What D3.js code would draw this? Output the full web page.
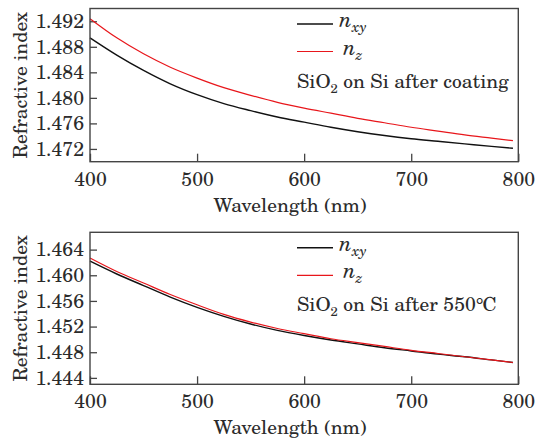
<!DOCTYPE html>
<html><head><meta charset="utf-8">
<script src="https://cdn.jsdelivr.net/npm/d3@7"></script>
</head><body style="margin:0;background:#fff"><svg id="c" width="535" height="441"></svg>
<script>
const wavelength = [400, 425, 450, 475, 500, 525, 550, 575, 600, 625, 650, 675, 700, 725, 750, 775, 795];
const coatingNxy = [1.4894, 1.4867, 1.4843, 1.4822, 1.4805, 1.4791, 1.4780, 1.4770, 1.4762, 1.4754, 1.4747, 1.4741, 1.4736, 1.4732, 1.4728, 1.4724, 1.4721];
const coatingNz  = [1.4924, 1.4894, 1.4869, 1.4848, 1.4831, 1.4816, 1.4804, 1.4793, 1.4784, 1.4776, 1.4768, 1.4761, 1.4754, 1.4748, 1.4742, 1.4737, 1.4733];
const annealNxy  = [1.4622, 1.4602, 1.4584, 1.4566, 1.4550, 1.4536, 1.4524, 1.4514, 1.4506, 1.4499, 1.4493, 1.4487, 1.4482, 1.4477, 1.4473, 1.4468, 1.4464];
const annealNz   = [1.4627, 1.4606, 1.4588, 1.4570, 1.4554, 1.4539, 1.4527, 1.4517, 1.4509, 1.4501, 1.4495, 1.4489, 1.4483, 1.4478, 1.4473, 1.4468, 1.4464];
const xTicks = [400, 500, 600, 700, 800];
const yTicksTop = [1.472, 1.476, 1.480, 1.484, 1.488, 1.492];
const yTicksBottom = [1.444, 1.448, 1.452, 1.456, 1.460, 1.464];
const panels = [
  {top: 8.5, bottom: 161.7, domain: [1.4700, 1.4940], ticks: yTicksTop, nxy: coatingNxy, nz: coatingNz, note: "after coating"},
  {top: 232.3, bottom: 384.3, domain: [1.4430, 1.4667], ticks: yTicksBottom, nxy: annealNxy, nz: annealNz, note: "after 550\u2103"}
];
const FONT = '"TeX Gyre Schola"';
const svg = d3.select("#c");
const left = 90, right = 518.3;
const x = d3.scaleLinear().domain([400, 800]).range([left, right]);
const txt = (sel, size) => sel.style("font-family", FONT).style("font-size", size + "px").attr("fill", "#2b2b2b");
panels.forEach(p => {
  const y = d3.scaleLinear().domain(p.domain).range([p.bottom, p.top]);
  const g = svg.append("g");
  const xa = g.append("g").attr("transform", `translate(0,${p.bottom})`)
    .call(d3.axisBottom(x).tickValues(xTicks).tickSize(-8).tickPadding(10).tickFormat(d3.format("d")));
  const ya = g.append("g").attr("transform", `translate(${left},0)`)
    .call(d3.axisLeft(y).tickValues(p.ticks).tickSize(-7).tickPadding(6).tickFormat(d3.format(".3f")));
  [xa, ya].forEach(a => {
    a.select(".domain").remove();
    a.selectAll("line").attr("stroke", "#444").attr("stroke-width", 1.3);
    txt(a.selectAll("text"), 19.5);
  });
  xa.selectAll("text").attr("dy", "0.71em");
  const line = arr => d3.line().curve(d3.curveMonotoneX).x((d, i) => x(wavelength[i])).y(d => y(d))(arr);
  g.append("path").attr("d", line(p.nxy)).attr("fill", "none").attr("stroke", "#111").attr("stroke-width", 1.4);
  g.append("path").attr("d", line(p.nz)).attr("fill", "none").attr("stroke", "#e8161b").attr("stroke-width", 1.2);
  g.append("rect").attr("x", left).attr("y", p.top).attr("width", right - left).attr("height", p.bottom - p.top)
    .attr("fill", "none").attr("stroke", "#444").attr("stroke-width", 1.4);
  txt(g.append("text").attr("transform", `translate(27,${(p.top + p.bottom) / 2}) rotate(-90)`)
    .attr("text-anchor", "middle"), 19.5).text("Refractive index");
  txt(g.append("text").attr("x", 290).attr("y", p.bottom + 50).attr("text-anchor", "middle"), 19.5)
    .text("Wavelength (nm)");
  const ly1 = p.top + 15.5, ly2 = p.top + 43;
  g.append("line").attr("x1", 297).attr("x2", 333).attr("y1", ly1).attr("y2", ly1).attr("stroke", "#111").attr("stroke-width", 1.4);
  g.append("line").attr("x1", 297).attr("x2", 333).attr("y1", ly2).attr("y2", ly2).attr("stroke", "#e8161b").attr("stroke-width", 1.2);
  const t1 = txt(g.append("text").attr("x", 339).attr("y", ly1 + 3), 21).style("font-style", "italic");
  t1.append("tspan").text("n");
  t1.append("tspan").attr("dy", 5).style("font-size", "15px").text("xy");
  const t2 = txt(g.append("text").attr("x", 343).attr("y", ly2 + 3), 21).style("font-style", "italic");
  t2.append("tspan").text("n");
  t2.append("tspan").attr("dy", 5).style("font-size", "15px").text("z");
  const t3 = txt(g.append("text").attr("x", 297).attr("y", p.top + 79), 19.5);
  t3.append("tspan").text("SiO");
  t3.append("tspan").attr("dy", 5).style("font-size", "13px").text("2");
  t3.append("tspan").attr("dy", -5).text(" on Si " + p.note);
});
</script></body></html>
